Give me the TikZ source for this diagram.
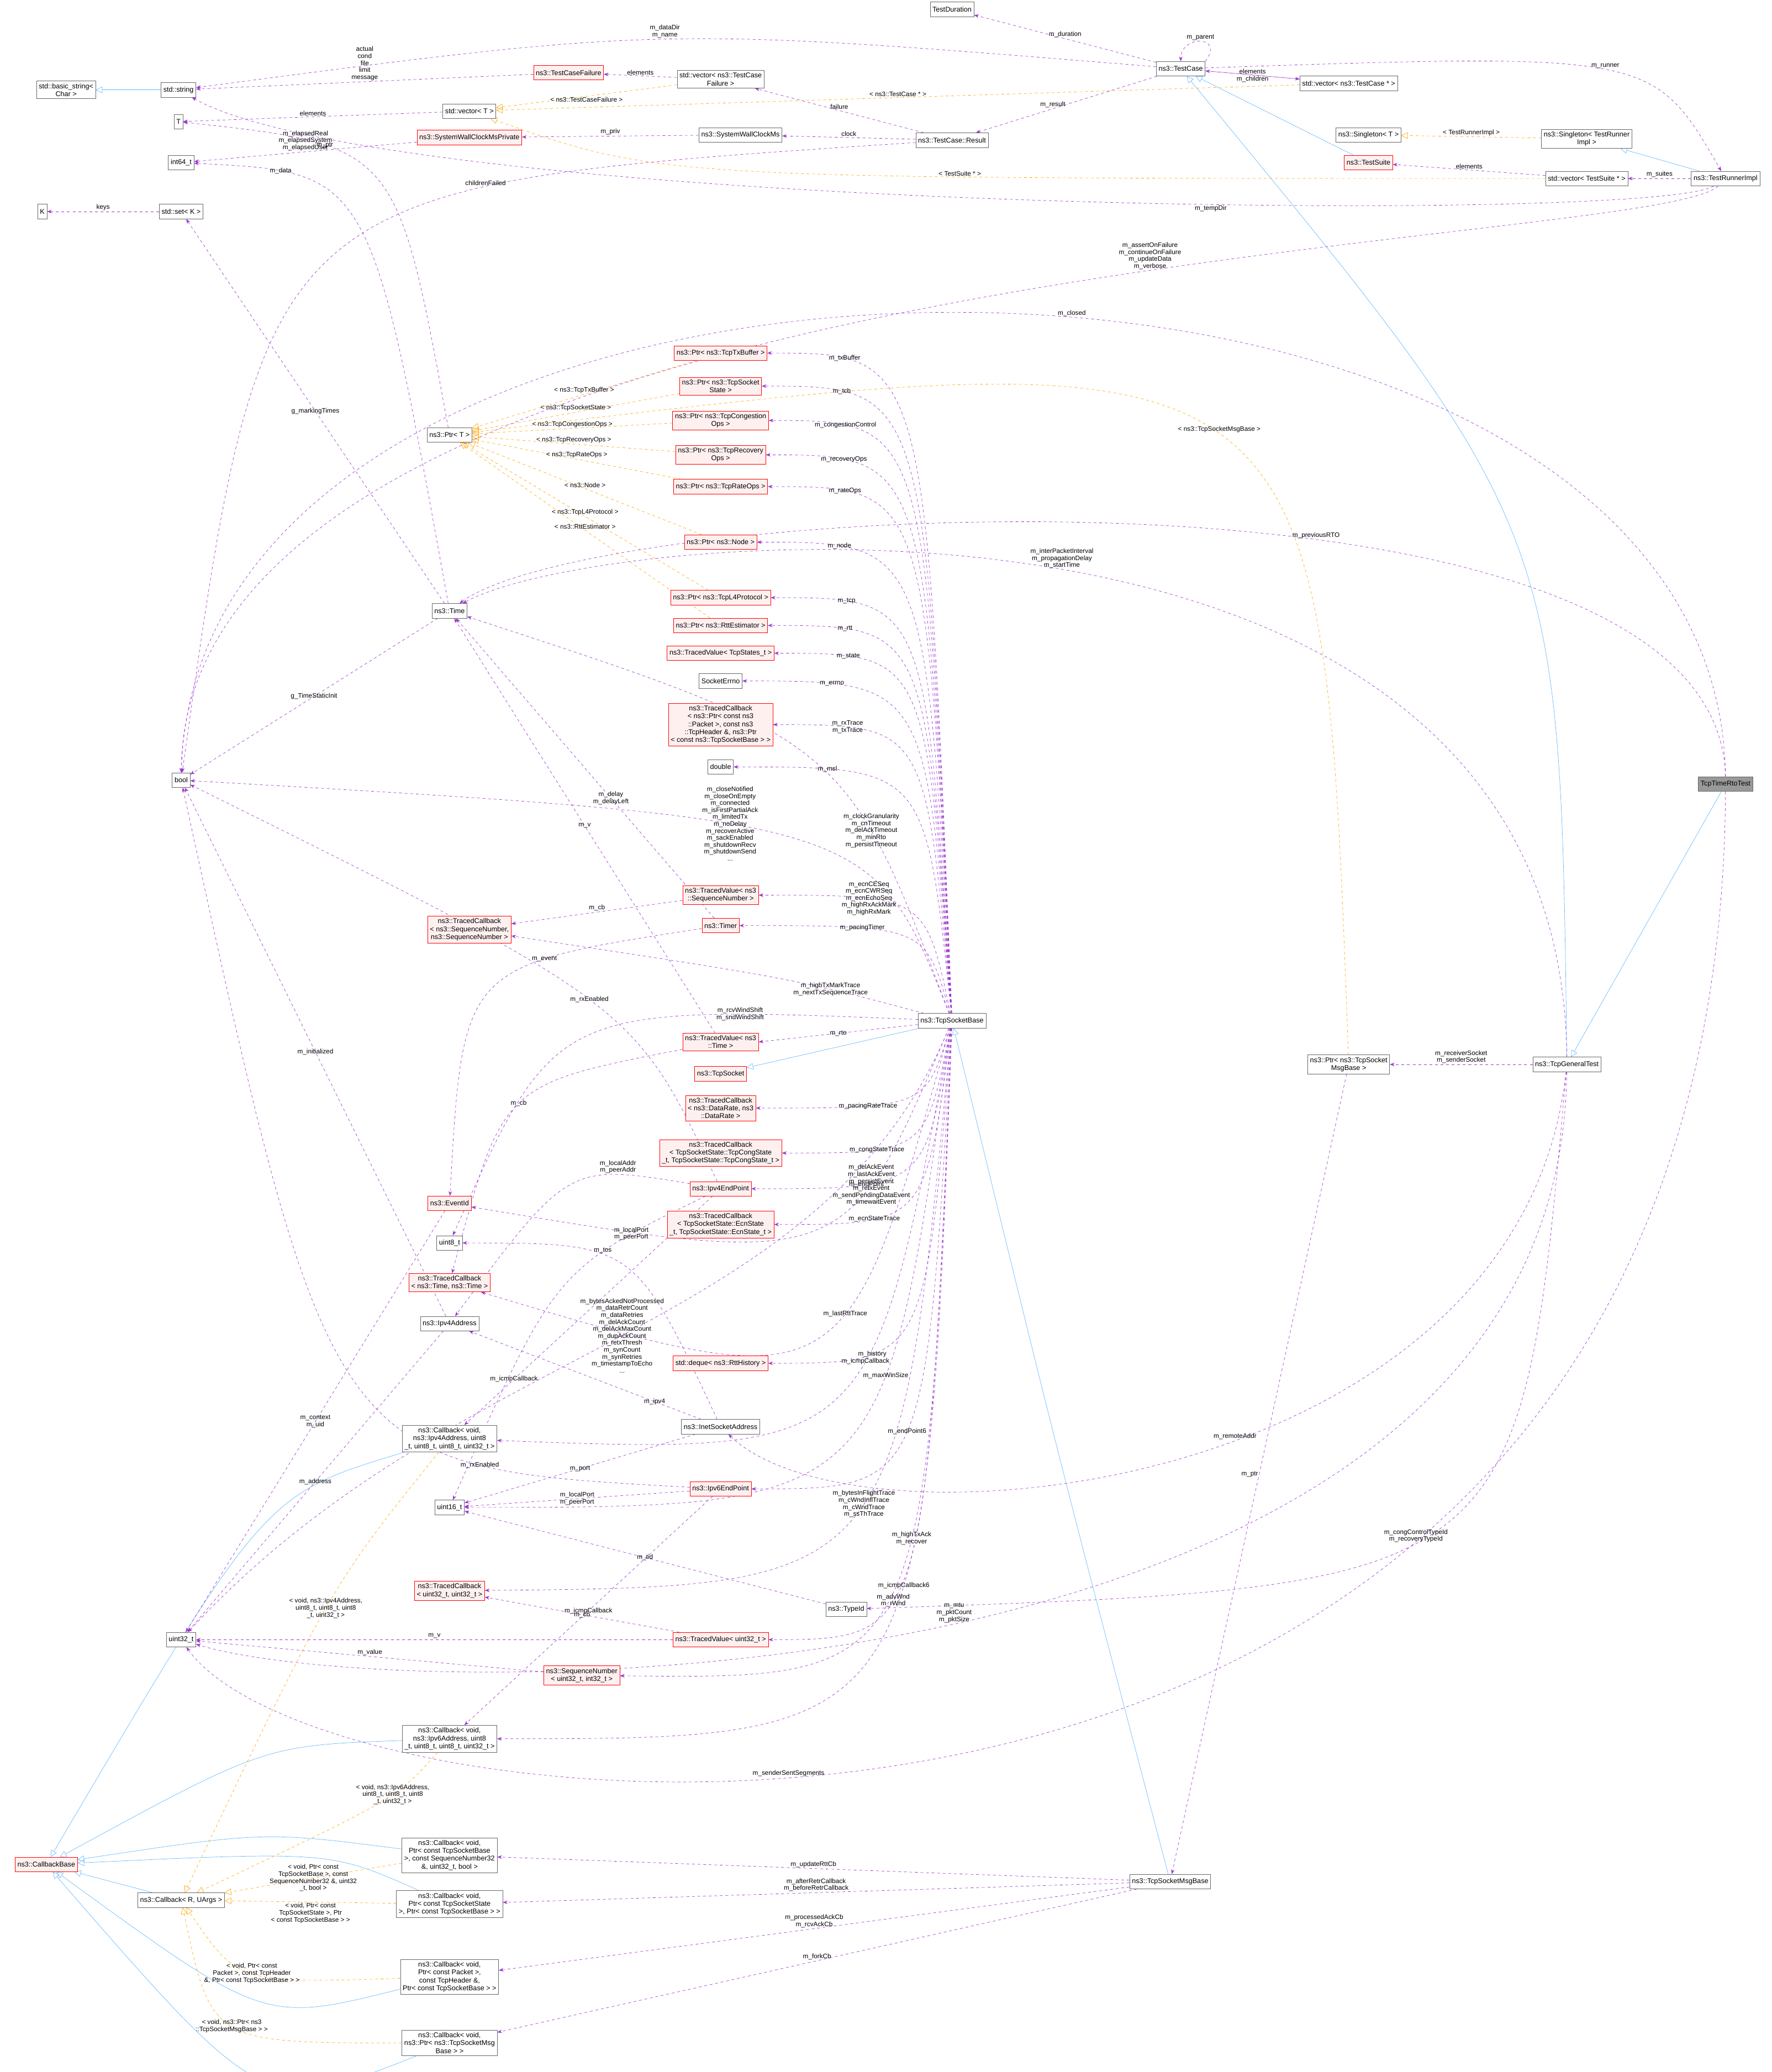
\documentclass[tikz,border=0pt]{standalone}
\usepackage{fontspec}
\setmainfont{Liberation Sans}
\usetikzlibrary{arrows.meta, positioning}
\pgfdeclarelayer{edges}
\pgfsetlayers{edges,main}

\definecolor{memc}{HTML}{9A32CD}
\definecolor{inhc}{HTML}{63B8FF}
\definecolor{tplc}{HTML}{FFA500}
\definecolor{redc}{HTML}{FF0000}
\definecolor{redf}{HTML}{FFF0F0}

\tikzset{
  cls/.style = {draw=black!60, fill=white, font=\fontsize{7.5}{8.5}\selectfont, align=center, inner sep=2.5pt, minimum height=0.55cm},
  rcls/.style = {cls, draw=redc, fill=redf},
  gcls/.style = {cls, fill=black!40},
  mem/.style = {draw=memc, dashed, -{Stealth[length=5pt]}},
  inh/.style = {draw=inhc, -{Triangle[open, length=7pt, width=7pt]}},
  tpl/.style = {draw=tplc, dashed, -{Triangle[open, length=7pt, width=7pt]}},
  lbl/.style = {font=\fontsize{7}{7.5}\selectfont, align=center, inner sep=1pt}
}

\begin{document}
\begin{tikzpicture}[x=0.05cm, y=-0.05cm]
  \useasboundingbox (0,0) rectangle (1340,1567);

  % left column
  \node[cls]  at (50,68)    (bstr)   {std::basic\_string<\\Char >};
  \node[cls]  at (135,68)   (str)    {std::string};
  \node[cls]  at (135,92)   (tt)     {T};
  \node[cls]  at (137,123)  (i64)    {int64\_t};
  \node[cls]  at (32,160)   (kk)     {K};
  \node[cls]  at (137,160)  (setk)   {std::set< K >};
  \node[cls]  at (137,590)  (bool)   {bool};
  \node[cls]  at (137,1240) (u32)    {uint32\_t};
  \node[rcls] at (35,1410)  (cbbase) {ns3::CallbackBase};
  \node[cls]  at (137,1437) (cbr)    {ns3::Callback< R, UArgs >};

  % second column
  \node[rcls] at (430,55)   (tcf)    {ns3::TestCaseFailure};
  \node[cls]  at (355,84)   (vect)   {std::vector< T >};
  \node[rcls] at (355,104)  (swcp)   {ns3::SystemWallClockMsPrivate};
  \node[cls]  at (340,329)  (ptrt)   {ns3::Ptr< T >};
  \node[cls]  at (340,462)  (time)   {ns3::Time};
  \node[rcls] at (355,703)  (tcseq)  {ns3::TracedCallback\\< ns3::SequenceNumber,\\ ns3::SequenceNumber >};
  \node[rcls] at (340,910)  (evid)   {ns3::EventId};
  \node[cls]  at (340,940)  (u8)     {uint8\_t};
  \node[rcls] at (340,970)  (tctime) {ns3::TracedCallback\\< ns3::Time, ns3::Time >};
  \node[cls]  at (340,1001) (ip4a)   {ns3::Ipv4Address};
  \node[cls]  at (340,1088) (cb4)    {ns3::Callback< void,\\ ns3::Ipv4Address, uint8\\\_t, uint8\_t, uint8\_t, uint32\_t >};
  \node[cls]  at (340,1140) (u16)    {uint16\_t};
  \node[rcls] at (340,1203) (tcu32)  {ns3::TracedCallback\\< uint32\_t, uint32\_t >};
  \node[rcls] at (440,1267) (seqn)   {ns3::SequenceNumber\\< uint32\_t, int32\_t >};
  \node[cls]  at (340,1315) (cb6)    {ns3::Callback< void,\\ ns3::Ipv6Address, uint8\\\_t, uint8\_t, uint8\_t, uint32\_t >};
  \node[cls]  at (340,1403) (cbrtt)  {ns3::Callback< void,\\ Ptr< const TcpSocketBase\\ >, const SequenceNumber32\\\&, uint32\_t, bool >};
  \node[cls]  at (340,1440) (cbst)   {ns3::Callback< void,\\ Ptr< const TcpSocketState\\ >, Ptr< const TcpSocketBase > >};
  \node[cls]  at (340,1495) (cbpkt)  {ns3::Callback< void,\\ Ptr< const Packet >,\\ const TcpHeader \&,\\ Ptr< const TcpSocketBase > >};
  \node[cls]  at (340,1545) (cbmsg)  {ns3::Callback< void,\\ ns3::Ptr< ns3::TcpSocketMsg\\Base > >};

  % third column
  \node[cls]  at (545,60)   (vtcf)   {std::vector< ns3::TestCase\\Failure >};
  \node[cls]  at (560,102)  (swc)    {ns3::SystemWallClockMs};
  \node[rcls] at (545,267)  (ptx)    {ns3::Ptr< ns3::TcpTxBuffer >};
  \node[rcls] at (545,292)  (pst)    {ns3::Ptr< ns3::TcpSocket\\State >};
  \node[rcls] at (545,318)  (pcg)    {ns3::Ptr< ns3::TcpCongestion\\Ops >};
  \node[rcls] at (545,344)  (prc)    {ns3::Ptr< ns3::TcpRecovery\\Ops >};
  \node[rcls] at (545,368)  (prt)    {ns3::Ptr< ns3::TcpRateOps >};
  \node[rcls] at (545,410)  (pnd)    {ns3::Ptr< ns3::Node >};
  \node[rcls] at (545,452)  (pl4)    {ns3::Ptr< ns3::TcpL4Protocol >};
  \node[rcls] at (545,473)  (prtt)   {ns3::Ptr< ns3::RttEstimator >};
  \node[rcls] at (545,494)  (tvst)   {ns3::TracedValue< TcpStates\_t >};
  \node[cls]  at (545,515)  (errno)  {SocketErrno};
  \node[rcls] at (545,548)  (tcpk)   {ns3::TracedCallback\\< ns3::Ptr< const ns3\\::Packet >, const ns3\\::TcpHeader \&, ns3::Ptr\\< const ns3::TcpSocketBase > >};
  \node[cls]  at (545,580)  (dbl)    {double};
  \node[rcls] at (545,677)  (tvseq)  {ns3::TracedValue< ns3\\::SequenceNumber >};
  \node[rcls] at (545,700)  (timer)  {ns3::Timer};
  \node[rcls] at (545,788)  (tvtime) {ns3::TracedValue< ns3\\::Time >};
  \node[rcls] at (545,812)  (tsock)  {ns3::TcpSocket};
  \node[rcls] at (545,838)  (tcdr)   {ns3::TracedCallback\\< ns3::DataRate, ns3\\::DataRate >};
  \node[rcls] at (545,872)  (tccg)   {ns3::TracedCallback\\< TcpSocketState::TcpCongState\\\_t, TcpSocketState::TcpCongState\_t >};
  \node[rcls] at (545,899)  (ep4)    {ns3::Ipv4EndPoint};
  \node[rcls] at (545,926)  (tcecn)  {ns3::TracedCallback\\< TcpSocketState::EcnState\\\_t, TcpSocketState::EcnState\_t >};
  \node[rcls] at (545,1031) (deq)    {std::deque< ns3::RttHistory >};
  \node[cls]  at (545,1079) (inet)   {ns3::InetSocketAddress};
  \node[rcls] at (545,1126) (ep6)    {ns3::Ipv6EndPoint};
  \node[rcls] at (545,1240) (tvu32)  {ns3::TracedValue< uint32\_t >};
  \node[cls]  at (640,1217) (tid)    {ns3::TypeId};

  % right part
  \node[cls]  at (720,7)    (tdur)   {TestDuration};
  \node[cls]  at (720,106)  (res)    {ns3::TestCase::Result};
  \node[cls]  at (720,772)  (tsb)    {ns3::TcpSocketBase};
  \node[cls]  at (893,52)   (tcase)  {ns3::TestCase};
  \node[cls]  at (1020,63)  (vtc)    {std::vector< ns3::TestCase * >};
  \node[cls]  at (1035,102) (sgt)    {ns3::Singleton< T >};
  \node[rcls] at (1035,123) (tsuite) {ns3::TestSuite};
  \node[cls]  at (1200,105) (sgr)    {ns3::Singleton< TestRunner\\Impl >};
  \node[cls]  at (1200,135) (vts)    {std::vector< TestSuite * >};
  \node[cls]  at (1305,135) (runner) {ns3::TestRunnerImpl};
  \node[gcls] at (1305,593) (rto)    {TcpTimeRtoTest};
  \node[cls]  at (1185,805) (gen)    {ns3::TcpGeneralTest};
  \node[cls]  at (1020,805) (pmsg)   {ns3::Ptr< ns3::TcpSocket\\MsgBase >};
  \node[cls]  at (885,1423) (msg)    {ns3::TcpSocketMsgBase};

  \begin{pgfonlayer}{edges}
  % inheritance
  \draw[inh] (str) -- (bstr);
  \draw[inh] (tsuite) -- (tcase);
  \draw[inh] (gen) .. controls (1180,400) .. (tcase);
  \draw[inh] (rto) -- (gen);
  \draw[inh] (runner) -- (sgr);
  \draw[inh] (tsb) -- (tsock);
  \draw[inh] (msg) .. controls (800,1100) .. (tsb);
  \draw[inh] (cb4) .. controls (200,1130) .. (cbbase);
  \draw[inh] (cb6) .. controls (200,1320) .. (cbbase);
  \draw[inh] (cbrtt) .. controls (200,1385) .. (cbbase);
  \draw[inh] (cbst) .. controls (250,1400) .. (cbbase);
  \draw[inh] (cbpkt) .. controls (200,1530) .. (cbbase);
  \draw[inh] (cbmsg) .. controls (200,1600) .. (cbbase);
  \draw[inh] (cbr) -- (cbbase);

  % templates
  \draw[tpl] (vtcf) -- node[lbl, below]{< ns3::TestCaseFailure >} (vect);
  \draw[tpl] (vtc) -- node[lbl, above]{< ns3::TestCase * >} (vect);
  \draw[tpl] (vts) .. controls (500,135) .. node[lbl, above, pos=0.3]{< TestSuite * >} (vect);
  \draw[tpl] (sgr) -- node[lbl, above]{< TestRunnerImpl >} (sgt);
  \draw[tpl] (ptx) -- node[lbl, above]{< ns3::TcpTxBuffer >} (ptrt);
  \draw[tpl] (pst) -- node[lbl, above]{< ns3::TcpSocketState >} (ptrt);
  \draw[tpl] (pcg) -- node[lbl, above]{< ns3::TcpCongestionOps >} (ptrt);
  \draw[tpl] (prc) -- node[lbl, above]{< ns3::TcpRecoveryOps >} (ptrt);
  \draw[tpl] (prt) -- node[lbl, above]{< ns3::TcpRateOps >} (ptrt);
  \draw[tpl] (pnd) -- node[lbl, above]{< ns3::Node >} (ptrt);
  \draw[tpl] (pl4) -- node[lbl, above]{< ns3::TcpL4Protocol >} (ptrt);
  \draw[tpl] (prtt) -- node[lbl, above]{< ns3::RttEstimator >} (ptrt);
  \draw[tpl] (pmsg) .. controls (1000,250) .. node[lbl, above, pos=0.5]{< ns3::TcpSocketMsgBase >} (ptrt);
  \draw[tpl] (cb4) .. controls (250,1200) .. node[lbl, pos=0.5]{< void, ns3::Ipv4Address,\\uint8\_t, uint8\_t, uint8\\\_t, uint32\_t >} (cbr);
  \draw[tpl] (cb6) .. controls (300,1360) .. node[lbl, pos=0.4]{< void, ns3::Ipv6Address,\\uint8\_t, uint8\_t, uint8\\\_t, uint32\_t >} (cbr);
  \draw[tpl] (cbrtt) -- node[lbl]{< void, Ptr< const\\TcpSocketBase >, const\\SequenceNumber32 \&, uint32\\\_t, bool >} (cbr);
  \draw[tpl] (cbst) -- node[lbl, below]{< void, Ptr< const\\TcpSocketState >, Ptr\\< const TcpSocketBase > >} (cbr);
  \draw[tpl] (cbpkt) .. controls (180,1500) .. node[lbl]{< void, Ptr< const\\Packet >, const TcpHeader\\\&, Ptr< const TcpSocketBase > >} (cbr);
  \draw[tpl] (cbmsg) .. controls (160,1545) .. node[lbl]{< void, ns3::Ptr< ns3\\::TcpSocketMsgBase > >} (cbr);

  % members of test classes
  \draw[mem] (tcase) -- node[lbl, above]{m\_duration} (tdur);
  \draw[mem] (tcase.north east) .. controls +(15,-20) and +(0,-20) .. node[lbl, above]{m\_parent} (tcase.north);
  \draw[mem] (tcase) .. controls (500,20) .. node[lbl, above]{m\_dataDir\\m\_name} (str);
  \draw[mem] (tcase) -- node[lbl, left]{m\_result} (res);
  \draw[mem] (tcase) -- node[lbl, below]{m\_children} (vtc);
  \draw[mem] (vtc) -- node[lbl, above]{elements} (tcase);
  \draw[mem] (tcase) .. controls (1250,40) .. node[lbl, above]{m\_runner} (runner);
  \draw[mem] (res) -- node[lbl, above]{failure} (vtcf);
  \draw[mem] (res) -- node[lbl, above]{clock} (swc);
  \draw[mem] (res) .. controls (200,140) .. node[lbl, above, pos=0.3]{childrenFailed} (bool);
  \draw[mem] (vtcf) -- node[lbl, above]{elements} (tcf);
  \draw[mem] (tcf) -- node[lbl, above]{actual\\cond\\file\\limit\\message} (str);
  \draw[mem] (swc) -- node[lbl, above]{m\_priv} (swcp);
  \draw[mem] (swcp) -- node[lbl, above]{m\_elapsedReal\\m\_elapsedSystem\\m\_elapsedUser} (i64);
  \draw[mem] (vect) -- node[lbl, above]{elements} (tt);
  \draw[mem] (runner) -- node[lbl, above]{m\_suites} (vts);
  \draw[mem] (vts) -- node[lbl, above]{elements} (tsuite);
  \draw[mem] (runner) .. controls (1250,170) and (300,160) .. node[lbl, below, pos=0.4]{m\_tempDir} (str);
  \draw[mem] (runner) .. controls (1250,190) and (140,190) .. node[lbl, above, pos=0.4]{m\_assertOnFailure\\m\_continueOnFailure\\m\_updateData\\m\_verbose} (bool);
  \draw[mem] (rto) .. controls (1300,120) and (150,120) .. node[lbl, above, pos=0.45]{m\_closed} (bool);
  \draw[mem] (rto) .. controls (1300,330) and (450,380) .. node[lbl, above, pos=0.4]{m\_previousRTO} (time);
  \draw[mem] (rto) .. controls (1300,1500) and (250,1400) .. node[lbl, above, pos=0.6]{m\_senderSentSegments} (u32);
  \draw[mem] (gen) .. controls (1180,330) and (450,400) .. node[lbl, above, pos=0.5]{m\_interPacketInterval\\m\_propagationDelay\\m\_startTime} (time);
  \draw[mem] (gen) -- node[lbl, above]{m\_receiverSocket\\m\_senderSocket} (pmsg);
  \draw[mem] (gen) .. controls (1150,1130) and (650,1180) .. node[lbl, above, pos=0.45]{m\_remoteAddr} (inet);
  \draw[mem] (gen) .. controls (1150,1200) .. node[lbl, above, pos=0.55]{m\_congControlTypeId\\m\_recoveryTypeId} (tid);
  \draw[mem] (gen) .. controls (1180,1300) and (300,1290) .. node[lbl, above, pos=0.5]{m\_mtu\\m\_pktCount\\m\_pktSize} (u32);
  \draw[mem] (pmsg) -- node[lbl, left]{m\_ptr} (msg);
  \draw[mem] (msg) -- node[lbl, above]{m\_updateRttCb} (cbrtt);
  \draw[mem] (msg) -- node[lbl, above]{m\_afterRetrCallback\\m\_beforeRetrCallback} (cbst);
  \draw[mem] (msg) -- node[lbl, above]{m\_processedAckCb\\m\_rcvAckCb} (cbpkt);
  \draw[mem] (msg) -- node[lbl, above]{m\_forkCb} (cbmsg);

  % members of TcpSocketBase
  \draw[mem] (tsb) .. controls (700,267) .. node[lbl, pos=0.8]{m\_txBuffer} (ptx.east);
  \draw[mem] (tsb) .. controls (700,292) .. node[lbl, pos=0.8]{m\_tcb} (pst.east);
  \draw[mem] (tsb) .. controls (700,318) .. node[lbl, pos=0.8]{m\_congestionControl} (pcg.east);
  \draw[mem] (tsb) .. controls (700,344) .. node[lbl, pos=0.8]{m\_recoveryOps} (prc.east);
  \draw[mem] (tsb) .. controls (700,368) .. node[lbl, pos=0.8]{m\_rateOps} (prt.east);
  \draw[mem] (tsb) .. controls (700,410) .. node[lbl, pos=0.8]{m\_node} (pnd.east);
  \draw[mem] (tsb) .. controls (700,452) .. node[lbl, pos=0.8]{m\_tcp} (pl4.east);
  \draw[mem] (tsb) .. controls (700,473) .. node[lbl, pos=0.8]{m\_rtt} (prtt.east);
  \draw[mem] (tsb) .. controls (700,494) .. node[lbl, pos=0.8]{m\_state} (tvst.east);
  \draw[mem] (tsb) .. controls (700,515) .. node[lbl, pos=0.8]{m\_errno} (errno.east);
  \draw[mem] (tsb) .. controls (700,548) .. node[lbl, pos=0.8]{m\_rxTrace\\m\_txTrace} (tcpk.east);
  \draw[mem] (tsb) .. controls (700,580) .. node[lbl, pos=0.8]{m\_msl} (dbl.east);
  \draw[mem] (tsb) .. controls (640,560) .. node[lbl, pos=0.3]{m\_clockGranularity\\m\_cnTimeout\\m\_delAckTimeout\\m\_minRto\\m\_persistTimeout} (time);
  \draw[mem] (tsb) .. controls (660,620) .. node[lbl, pos=0.6]{m\_closeNotified\\m\_closeOnEmpty\\m\_connected\\m\_isFirstPartialAck\\m\_limitedTx\\m\_noDelay\\m\_recoverActive\\m\_sackEnabled\\m\_shutdownRecv\\m\_shutdownSend\\...} (bool);
  \draw[mem] (tsb) .. controls (700,677) .. node[lbl, pos=0.7]{m\_ecnCESeq\\m\_ecnCWRSeq\\m\_ecnEchoSeq\\m\_highRxAckMark\\m\_highRxMark} (tvseq.east);
  \draw[mem] (tsb) .. controls (700,700) .. node[lbl, pos=0.7]{m\_pacingTimer} (timer.east);
  \draw[mem] (tsb) .. controls (600,740) .. node[lbl, pos=0.3]{m\_highTxMarkTrace\\m\_nextTxSequenceTrace} (tcseq);
  \draw[mem] (tsb) .. controls (420,760) .. node[lbl, pos=0.2]{m\_rcvWindShift\\m\_sndWindShift} (u8);
  \draw[mem] (tsb) -- node[lbl]{m\_rto} (tvtime.east);
  \draw[mem] (tsb) .. controls (700,838) .. node[lbl, pos=0.7]{m\_pacingRateTrace} (tcdr.east);
  \draw[mem] (tsb) .. controls (700,872) .. node[lbl, pos=0.7]{m\_congStateTrace} (tccg.east);
  \draw[mem] (tsb) .. controls (700,899) .. node[lbl, pos=0.7]{m\_endPoint} (ep4.east);
  \draw[mem] (tsb) .. controls (700,926) .. node[lbl, pos=0.7]{m\_ecnStateTrace} (tcecn.east);
  \draw[mem] (tsb) .. controls (640,960) .. node[lbl, pos=0.3]{m\_delAckEvent\\m\_lastAckEvent\\m\_persistEvent\\m\_retxEvent\\m\_sendPendingDataEvent\\m\_timewaitEvent} (evid);
  \draw[mem] (tsb) .. controls (620,1012) and (348,1011) .. node[lbl, pos=0.5]{m\_bytesAckedNotProcessed\\m\_dataRetrCount\\m\_dataRetries\\m\_delAckCount\\m\_delAckMaxCount\\m\_dupAckCount\\m\_retxThresh\\m\_synCount\\m\_synRetries\\m\_timestampToEcho\\...} (u32);
  \draw[mem] (tsb) .. controls (700,1031) .. node[lbl, pos=0.7]{m\_history} (deq.east);
  \draw[mem] (tsb) .. controls (640,1060) .. node[lbl, pos=0.4]{m\_lastRttTrace} (tctime);
  \draw[mem] (tsb) .. controls (660,1100) .. node[lbl, pos=0.4]{m\_icmpCallback} (cb4);
  \draw[mem] (tsb) .. controls (700,1126) .. node[lbl, pos=0.5]{m\_endPoint6} (ep6.east);
  \draw[mem] (tsb) .. controls (670,1140) .. node[lbl, pos=0.35]{m\_maxWinSize} (u16);
  \draw[mem] (tsb) .. controls (680,1200) .. node[lbl, pos=0.47]{m\_bytesInFlightTrace\\m\_cWndInflTrace\\m\_cWndTrace\\m\_ssThTrace} (tcu32);
  \draw[mem] (tsb) .. controls (700,1240) .. node[lbl, pos=0.6]{m\_advWnd\\m\_rWnd} (tvu32.east);
  \draw[mem] (tsb) .. controls (700,1270) .. node[lbl, pos=0.4]{m\_highTxAck\\m\_recover} (seqn);
  \draw[mem] (tsb) .. controls (700,1315) .. node[lbl, pos=0.4]{m\_icmpCallback6} (cb6);

  % other members
  \draw[mem] (ptrt) .. controls (300,110) .. node[lbl, pos=0.7]{m\_ptr} (tt);
  \draw[mem] (time) .. controls (280,130) .. node[lbl, pos=0.8]{m\_data} (i64);
  \draw[mem] (time) -- node[lbl]{g\_markingTimes} (setk);
  \draw[mem] (time) -- node[lbl]{g\_TimeStaticInit} (bool);
  \draw[mem] (setk) -- node[lbl, above]{keys} (kk);
  \draw[mem] (tvseq) -- node[lbl, above]{m\_cb} (tcseq);
  \draw[mem] (timer) -- node[lbl, pos=0.4]{m\_delay\\m\_delayLeft} (time);
  \draw[mem] (timer) .. controls (350,730) .. node[lbl, pos=0.3]{m\_event} (evid);
  \draw[mem] (tvtime) -- node[lbl]{m\_v} (time);
  \draw[mem] (tvtime) .. controls (380,820) .. node[lbl, pos=0.5]{m\_cb} (tctime);
  \draw[mem] (ep4) .. controls (430,880) .. node[lbl, above, pos=0.25]{m\_localAddr\\m\_peerAddr} (ip4a);
  \draw[mem] (ep4) .. controls (420,960) .. node[lbl, pos=0.2]{m\_localPort\\m\_peerPort} (u16);
  \draw[mem] (ep4) .. controls (480,760) .. node[lbl, pos=0.5]{m\_rxEnabled} (bool);
  \draw[mem] (ep4) -- node[lbl, pos=0.8]{m\_icmpCallback} (cb4);
  \draw[mem] (evid) -- node[lbl]{m\_context\\m\_uid} (u32);
  \draw[mem] (ip4a) -- node[lbl]{m\_initialized} (bool);
  \draw[mem] (ip4a) -- node[lbl]{m\_address} (u32);
  \draw[mem] (inet) -- node[lbl, pos=0.2]{m\_ipv4} (ip4a);
  \draw[mem] (inet) -- node[lbl]{m\_port} (u16);
  \draw[mem] (inet) .. controls (480,940) .. node[lbl, above, pos=0.6]{m\_tos} (u8.east);
  \draw[mem] (ep6) -- node[lbl]{m\_localPort\\m\_peerPort} (u16);
  \draw[mem] (ep6) .. controls (250,1110) .. node[lbl, pos=0.25]{m\_rxEnabled} (bool);
  \draw[mem] (ep6) -- node[lbl]{m\_icmpCallback} (cb6);
  \draw[mem] (tid) -- node[lbl]{m\_tid} (u16);
  \draw[mem] (tvu32) -- node[lbl, above]{m\_v} (u32);
  \draw[mem] (tvu32) -- node[lbl]{m\_cb} (tcu32);
  \draw[mem] (seqn) -- node[lbl, above]{m\_value} (u32);
  \end{pgfonlayer}
\end{tikzpicture}
\end{document}
